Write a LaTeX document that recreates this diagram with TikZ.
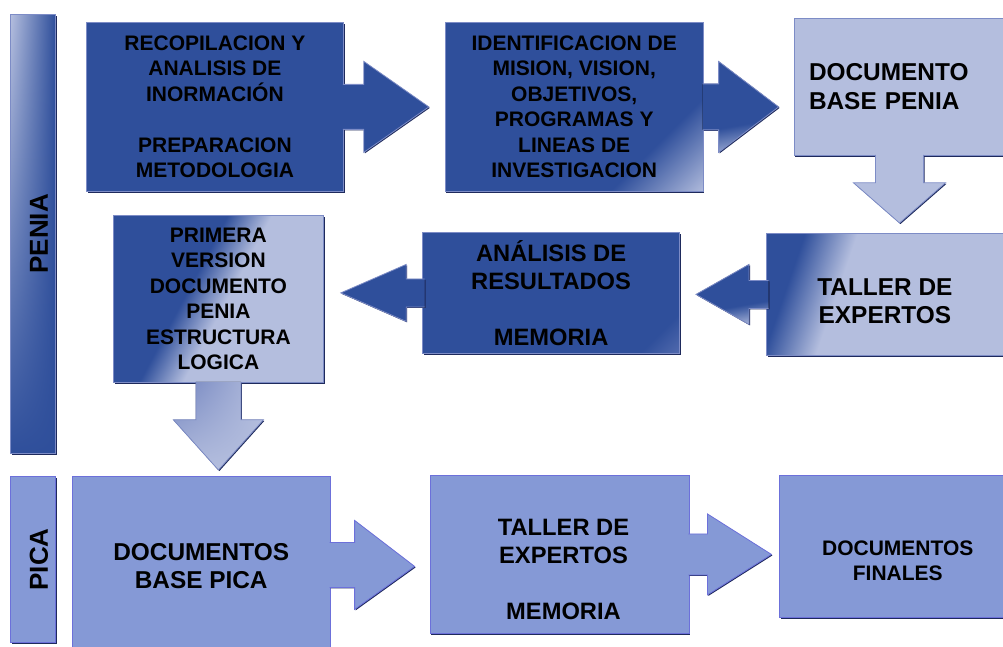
\documentclass[tikz,border=0pt]{standalone}
\usepackage{fontspec}
\setmainfont{Liberation Sans}
\usepackage{graphicx}
\usetikzlibrary{positioning,calc,shadows,shadings}

\definecolor{dkblue}{RGB}{47,79,155}
\definecolor{ltblue}{RGB}{180,190,222}
\definecolor{midblue}{RGB}{112,130,190}
\definecolor{mdblue}{RGB}{133,153,214}
\definecolor{edge}{RGB}{125,140,198}
\definecolor{mdedge}{RGB}{108,112,218}
\definecolor{navy}{RGB}{30,42,92}

% office style gradients
\pgfdeclarehorizontalshading{lastcorner}{100bp}{color(0bp)=(dkblue); color(70bp)=(dkblue); color(86bp)=(ltblue); color(100bp)=(ltblue)}
\pgfdeclarehorizontalshading{faintcorner}{100bp}{color(0bp)=(dkblue); color(78bp)=(dkblue); color(92bp)=(midblue); color(100bp)=(midblue)}
\pgfdeclarehorizontalshading{halfway}{100bp}{color(0bp)=(dkblue); color(42bp)=(dkblue); color(52bp)=(ltblue); color(100bp)=(ltblue)}
\pgfdeclarehorizontalshading{earlylight}{100bp}{color(0bp)=(dkblue); color(27bp)=(dkblue); color(39bp)=(ltblue); color(100bp)=(ltblue)}
\pgfdeclarehorizontalshading{arrowlight}{100bp}{color(0bp)=(dkblue); color(60bp)=(dkblue); color(78bp)=(ltblue); color(100bp)=(ltblue)}

\newcommand{\fsz}[2]{\fontsize{#1}{#2}\selectfont\bfseries}

\begin{document}
\begin{tikzpicture}
    [x=1pt, y=-1pt, every node/.style={align=center, inner sep=0pt, anchor=north west},
     box/.style={draw=edge, line width=0.8pt, drop shadow={fill=navy, opacity=1,
       shadow xshift=1.2pt, shadow yshift=-1.2pt}},
     dk/.style={box, fill=dkblue},
     lt/.style={box, fill=ltblue},
     md/.style={box, fill=mdblue, draw=mdedge},
     arr/.style={draw=edge, line width=0.8pt, drop shadow={fill=navy, opacity=1,
       shadow xshift=1pt, shadow yshift=-1pt}},
     txt/.style={anchor=center}]

    \useasboundingbox (0,0) rectangle (1003,647);

    % PENIA
    \node (penia) [dk, upper left=ltblue, upper right=dkblue, lower left=dkblue,
      lower right=dkblue, minimum width=45pt, minimum height=439pt,
      font=\fsz{26}{30}] at (10,14) {\hspace*{12pt}\rotatebox{90}{PENIA}};
    \node (recop) [dk, minimum width=257pt, minimum height=169pt,
      font=\fsz{21}{25.5}] at (86,22)
    {RECOPILACION Y\\ANALISIS DE\\INORMACIÓN\\[25.5pt]PREPARACION\\METODOLOGIA};
    \node (ident) [box, shade, shading=lastcorner, shading angle=-45,
      minimum width=258pt, minimum height=169pt, font=\fsz{21}{25.5},
      right=101pt of recop.north east, anchor=north west]
    {IDENTIFICACION DE\\MISION, VISION,\\OBJETIVOS,\\PROGRAMAS Y\\LINEAS DE\\INVESTIGACION};
    \node (docpenia) [lt, minimum width=211pt, minimum height=137pt,
      font=\fsz{24.4}{29}, align=left, text width=181pt,
      right=90pt of ident.north east, anchor=north west, yshift=4pt]
    {DOCUMENTO\\BASE PENIA};
    \node (taller) [box, shade, shading=earlylight, shading angle=-19,
      minimum width=237pt, minimum height=122pt] at (766,233) {};
    \node (tallertxt) [txt, font=\fsz{24.4}{28}] at ([shift={(0pt,-7pt)}]taller.center)
    {TALLER DE\\EXPERTOS};
    \node (analisis) [box, shade, shading=faintcorner, shading angle=-45,
      minimum width=257pt, minimum height=121pt, font=\fsz{23.7}{28},
      left=86pt of taller.north west, anchor=north east, yshift=1pt]
    {ANÁLISIS DE\\RESULTADOS\\[28pt]MEMORIA};
    \node (primera) [box, shade, shading=halfway, shading angle=-28,
      minimum width=210pt, minimum height=167pt, font=\fsz{21}{25.5}] at (113,215)
    {PRIMERA\\VERSION\\DOCUMENTO\\PENIA\\ESTRUCTURA\\LOGICA};

    % PICA
    \node (pica) [md, minimum width=45pt, minimum height=166pt,
      font=\fsz{26}{30}] at (10,476) {\hspace*{12pt}\rotatebox{90}{PICA}};
    \node (docpica) [md, minimum width=258pt, minimum height=180pt,
      font=\fsz{24.4}{28}, right=16pt of pica.north east, anchor=north west]
    {DOCUMENTOS\\BASE PICA};
    \node (tallerpica) [md, minimum width=259pt, minimum height=158pt,
      right=99pt of docpica.north east, anchor=north west, yshift=1pt] {};
    \node (tallerpicatxt) [txt, font=\fsz{23.7}{28}]
      at ([shift={(4pt,-15pt)}]tallerpica.center)
    {TALLER DE\\EXPERTOS\\[28pt]MEMORIA};
    \node (finales) [md, minimum width=226pt, minimum height=142pt,
      right=90pt of tallerpica.north east, anchor=north west] {};
    \node (finalestxt) [txt, font=\fsz{21}{25}]
      at ([shift={(5pt,-14pt)}]finales.center) {DOCUMENTOS\\FINALES};

    % arrows
    \filldraw[arr, fill=dkblue] ([shift={(-1pt,22.5pt)}]recop.east) -- ++(21pt,0)
      -- ++(0,23pt) -- ($(recop.east -| ident.west)+(-16pt,0)$)
      -- ([shift={(20pt,-45.5pt)}]recop.east) -- ++(0,23pt) -- ++(-21pt,0);
    \filldraw[arr, shade, shading=arrowlight, shading angle=-80]
      ([shift={(-1pt,23pt)}]ident.east) -- ++(16pt,0)
      -- ++(0,22.5pt) -- ($(ident.east -| docpenia.west)+(-15pt,0)$)
      -- ([shift={(15pt,-45.5pt)}]ident.east) -- ++(0,22.5pt) -- ++(-16pt,0);
    \filldraw[arr, fill=ltblue] ([shift={(-24pt,1pt)}]docpenia.south) -- ++(0,-28pt)
      -- ++(-22pt,0) -- ($(docpenia.south |- taller.north)+(0,10pt)$)
      -- ([shift={(46pt,-27pt)}]docpenia.south) -- ++(-22pt,0) -- ++(0,28pt);
    \filldraw[arr, shade, shading=arrowlight, shading angle=-80]
      ([shift={(2.5pt,14pt)}]taller.west) -- ++(-19.5pt,0)
      -- ++(0,16pt) -- ($(taller.west -| analisis.east)+(16pt,0)$)
      -- ([shift={(-17pt,-30pt)}]taller.west) -- ++(0,16pt) -- ++(19.5pt,0);
    \filldraw[arr, fill=dkblue] ([shift={(2.5pt,14pt)}]analisis.west) -- ++(-18.5pt,0)
      -- ++(0,14.5pt) -- ($(analisis.west -| primera.east)+(17pt,0)$)
      -- ([shift={(-16pt,-28.5pt)}]analisis.west) -- ++(0,14.5pt) -- ++(18.5pt,0);
    \filldraw[arr, upper left=midblue, upper right=ltblue, lower left=ltblue,
      lower right=ltblue] ([shift={(-22.5pt,1pt)}]primera.south) -- ++(0,-38pt)
      -- ++(-22.5pt,0) -- ($(primera.south |- docpica.north)+(0,6pt)$)
      -- ([shift={(45pt,-37pt)}]primera.south) -- ++(-22.5pt,0) -- ++(0,38pt);
    \filldraw[arr, fill=mdblue, draw=mdedge] ([shift={(-1pt,24pt)}]docpica.east)
      -- ++(25pt,0) -- ++(0,22pt) -- ($(docpica.east -| tallerpica.west)+(-15pt,0)$)
      -- ([shift={(24pt,-43pt)}]docpica.east) -- ++(0,22pt) -- ++(-25pt,0);
    \filldraw[arr, fill=mdblue, draw=mdedge] ([shift={(-1pt,20.5pt)}]tallerpica.east)
      -- ++(19pt,0) -- ++(0,20pt) -- ($(tallerpica.east -| finales.west)+(-8pt,0)$)
      -- ([shift={(18pt,-40.5pt)}]tallerpica.east) -- ++(0,20pt) -- ++(-19pt,0);
  \end{tikzpicture}
\end{document}
